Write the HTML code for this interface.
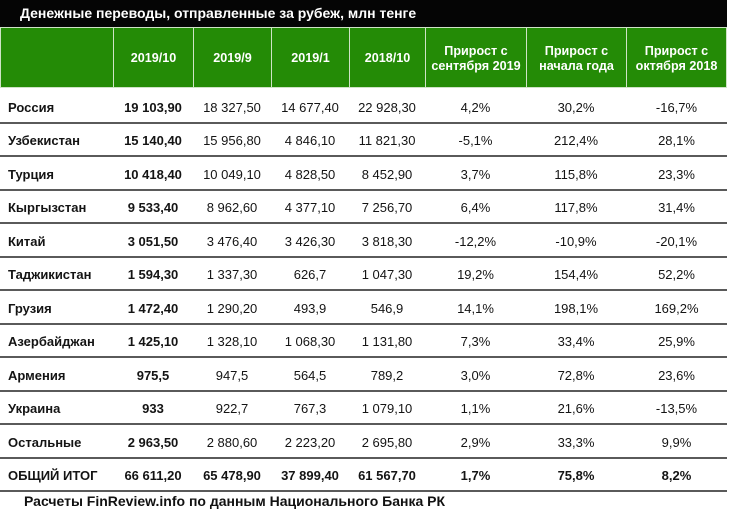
<!DOCTYPE html>
<html><head><meta charset="utf-8">
<style>
html,body{margin:0;padding:0;background:#fff;}
#w{position:relative;width:730px;height:520px;overflow:hidden;font-family:"Liberation Sans","DejaVu Sans",sans-serif;color:#141414;}
.title{position:absolute;left:0;top:0;width:727px;height:27px;background:#050505;color:#fff;font-weight:bold;font-size:14px;line-height:27px;}
.title span{position:absolute;left:20px;top:0px;}
.hdr{position:absolute;top:27px;height:61px;background:#248b06;border:1px solid #cfe3c6;box-sizing:border-box;color:#fff;font-weight:bold;font-size:12.6px;display:flex;align-items:center;justify-content:center;text-align:center;line-height:15px;padding-top:2px;}
.cell{position:absolute;height:20px;line-height:20px;font-size:13px;text-align:center;white-space:nowrap;}
.lbl{text-align:left;font-weight:bold;}
.b{font-weight:bold;}
.line{position:absolute;left:0;width:727px;height:2px;background:#5a5a5a;}
.foot{position:absolute;left:24px;top:491px;font-size:14px;font-weight:bold;line-height:20px;color:#111;}
</style></head><body><div id="w">
<div class="title"><span>Денежные переводы, отправленные за рубеж, млн тенге</span></div>

<div class="hdr" style="left:0;width:114px;"></div>
<div class="hdr" style="left:113px;width:81px;">2019/10</div>
<div class="hdr" style="left:193px;width:79px;">2019/9</div>
<div class="hdr" style="left:271px;width:79px;">2019/1</div>
<div class="hdr" style="left:349px;width:77px;">2018/10</div>
<div class="hdr" style="left:425px;width:102px;">Прирост с<br>сентября 2019</div>
<div class="hdr" style="left:526px;width:101px;">Прирост с<br>начала года</div>
<div class="hdr" style="left:626px;width:101px;">Прирост с<br>октября 2018</div>

<div id="rows"></div>
<div class="foot">Расчеты FinReview.info по данным Национального Банка РК</div>
</div>
<script>
(function(){
var data=[
["Россия","19 103,90","18 327,50","14 677,40","22 928,30","4,2%","30,2%","-16,7%"],
["Узбекистан","15 140,40","15 956,80","4 846,10","11 821,30","-5,1%","212,4%","28,1%"],
["Турция","10 418,40","10 049,10","4 828,50","8 452,90","3,7%","115,8%","23,3%"],
["Кыргызстан","9 533,40","8 962,60","4 377,10","7 256,70","6,4%","117,8%","31,4%"],
["Китай","3 051,50","3 476,40","3 426,30","3 818,30","-12,2%","-10,9%","-20,1%"],
["Таджикистан","1 594,30","1 337,30","626,7","1 047,30","19,2%","154,4%","52,2%"],
["Грузия","1 472,40","1 290,20","493,9","546,9","14,1%","198,1%","169,2%"],
["Азербайджан","1 425,10","1 328,10","1 068,30","1 131,80","7,3%","33,4%","25,9%"],
["Армения","975,5","947,5","564,5","789,2","3,0%","72,8%","23,6%"],
["Украина","933","922,7","767,3","1 079,10","1,1%","21,6%","-13,5%"],
["Остальные","2 963,50","2 880,60","2 223,20","2 695,80","2,9%","33,3%","9,9%"],
["ОБЩИЙ ИТОГ","66 611,20","65 478,90","37 899,40","61 567,70","1,7%","75,8%","8,2%"]
];
var cols=[[0,113],[113,193],[193,271],[271,349],[349,425],[425,526],[526,626],[626,727]];
var h="";
for(var i=0;i<data.length;i++){
  var lineY=121.5+33.5*i;
  var ty=lineY-14-10;
  for(var j=0;j<8;j++){
    var c=cols[j];
    var cls="cell";
    if(j==0){h+='<div class="cell lbl" style="left:8px;top:'+ty+'px;width:105px;">'+data[i][j]+'</div>';continue;}
    if(j==1||i==11)cls+=" b";
    h+='<div class="'+cls+'" style="left:'+c[0]+'px;top:'+ty+'px;width:'+(c[1]-c[0])+'px;">'+data[i][j]+'</div>';
  }
  h+='<div class="line" style="top:'+lineY+'px;"></div>';
}
document.getElementById("rows").innerHTML=h;
})();
</script>
</body></html>
